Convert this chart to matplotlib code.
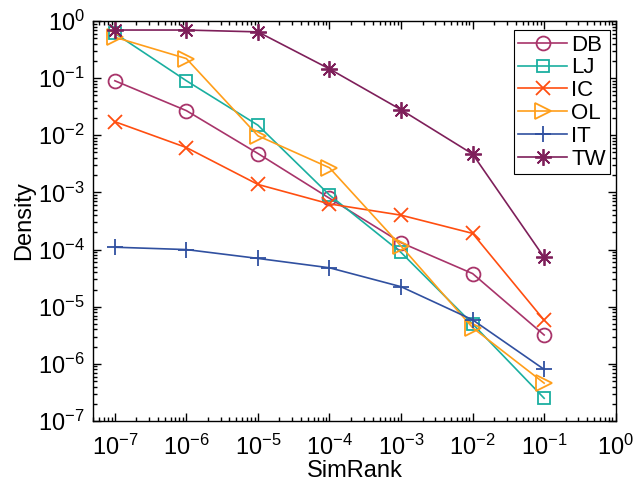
import matplotlib
matplotlib.use("Agg")
import matplotlib.pyplot as plt
from matplotlib.ticker import FixedLocator, NullFormatter, LogFormatterSciNotation

plt.rcParams['font.family'] = ['Liberation Sans', 'DejaVu Sans']
plt.rcParams['mathtext.fontset'] = 'custom'
plt.rcParams['mathtext.rm'] = 'Liberation Sans'
plt.rcParams['mathtext.it'] = 'Liberation Sans'
plt.rcParams['mathtext.bf'] = 'Liberation Sans'

x = [1e-7, 1e-6, 1e-5, 1e-4, 1e-3, 1e-2, 1e-1]
DB = [0.09, 0.027, 0.0048, 7.9e-4, 1.32e-4, 3.8e-5, 3.2e-6]
LJ = [0.61, 0.09, 0.015, 9.0e-4, 8.9e-5, 5.0e-6, 2.5e-7]
IC = [0.0173, 0.0061, 1.38e-3, 6.3e-4, 4.0e-4, 1.92e-4, 5.8e-6]
OL = [0.52, 0.22, 0.0098, 0.0027, 1.15e-4, 4.3e-6, 4.6e-7]
IT = [1.1e-4, 1.0e-4, 7.0e-5, 4.8e-5, 2.24e-5, 5.9e-6, 8.0e-7]
TW = [0.695, 0.695, 0.645, 0.145, 0.028, 4.7e-3, 7.3e-5]

xticks = [1e-7, 1e-6, 1e-5, 1e-4, 1e-3, 1e-2, 1e-1, 1e0]
yticks = [1e-7, 1e-6, 1e-5, 1e-4, 1e-3, 1e-2, 1e-1, 1e0]

series = [
    ("DB", DB, "#A8346A", "o", 10),
    ("LJ", LJ, "#1AAFA0", "s", 8.5),
    ("IC", IC, "#FF4E10", "x", 10),
    ("OL", OL, "#FF9E1A", ">", 11),
    ("IT", IT, "#3050A0", "+", 12),
    ("TW", TW, "#7E1F5A", (8, 2, 0), 12),
]

fig = plt.figure(figsize=(6.35, 4.84), dpi=100)
ax = fig.add_axes([93.3/635, 1 - 421/484, (615.7-93.3)/635, (421-21)/484])

for name, ys, c, m, ms in series:
    ax.plot(x, ys, color=c, marker=m, markersize=ms, markerfacecolor='none',
            markeredgecolor=c, markeredgewidth=1.3, linewidth=1.2, label=name)

ax.set_xscale('log')
ax.set_yscale('log')
ax.set_xlim(5e-8, 1)
ax.set_ylim(1e-7, 1)
ax.xaxis.set_major_locator(FixedLocator(xticks))
ax.yaxis.set_major_locator(FixedLocator(yticks))
ax.xaxis.set_major_formatter(LogFormatterSciNotation())
ax.yaxis.set_major_formatter(LogFormatterSciNotation())
xminor = [m * d for d in [1e-8, 1e-7, 1e-6, 1e-5, 1e-4, 1e-3, 1e-2, 1e-1] for m in range(2, 10)
          if 5e-8 <= m * d <= 1]
yminor = [m * d for d in [1e-7, 1e-6, 1e-5, 1e-4, 1e-3, 1e-2, 1e-1] for m in range(2, 10)]
ax.xaxis.set_minor_locator(FixedLocator(xminor))
ax.yaxis.set_minor_locator(FixedLocator(yminor))
ax.xaxis.set_minor_formatter(NullFormatter())
ax.yaxis.set_minor_formatter(NullFormatter())
ax.tick_params(which='both', direction='in', top=True, right=True, labelsize=17, width=1)
ax.tick_params(which='major', length=6)
ax.tick_params(which='minor', length=3)
ax.tick_params(axis='x', which='major', pad=10)
ax.tick_params(axis='y', which='major', pad=6)
for s in ax.spines.values():
    s.set_linewidth(1)

ax.set_xlabel('SimRank', fontsize=17, labelpad=0)
ax.set_ylabel('Density', fontsize=17, labelpad=2)

leg = ax.legend(loc='upper right', fontsize=16, frameon=True, fancybox=False,
                edgecolor='black', framealpha=1, borderpad=0.2, labelspacing=0.08,
                handlelength=2.2, handletextpad=0.2, borderaxespad=0.0,
                bbox_to_anchor=(0.99, 0.977))
leg.get_frame().set_linewidth(0.8)

fig.savefig('out.png', dpi=100)
